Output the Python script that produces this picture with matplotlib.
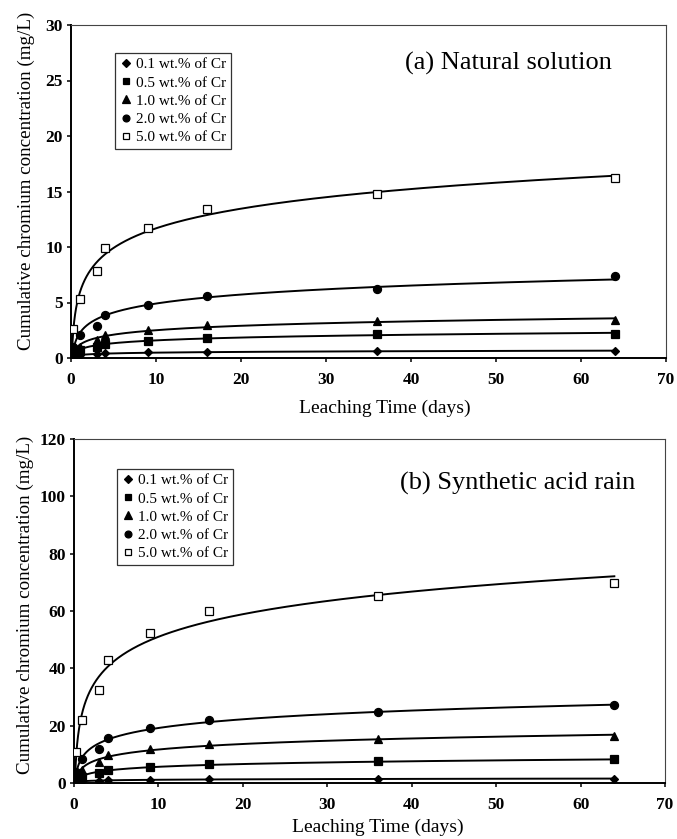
import numpy as np
import matplotlib
matplotlib.use("Agg")
import matplotlib.pyplot as plt

plt.rcParams['font.family'] = ['Liberation Serif', 'DejaVu Serif']

days = [0.25, 1, 3, 4, 9, 16, 36, 64]
labels = ["0.1 wt.% of Cr", "0.5 wt.% of Cr", "1.0 wt.% of Cr", "2.0 wt.% of Cr", "5.0 wt.% of Cr"]

nat_01 = [0.10, 0.25, 0.35, 0.45, 0.50, 0.57, 0.60, 0.60]
nat_05 = [0.30, 0.70, 1.00, 1.30, 1.56, 1.83, 2.13, 2.20]
nat_10 = [0.50, 1.00, 1.60, 2.07, 2.50, 2.97, 3.33, 3.40]
nat_20 = [1.00, 2.07, 2.90, 3.87, 4.77, 5.60, 6.25, 7.40]
nat_50 = [2.60, 5.30, 7.80, 9.90, 11.70, 13.40, 14.80, 16.20]

acid_01 = [0.3, 0.6, 0.8, 1.0, 1.1, 1.3, 1.4, 1.5]
acid_05 = [1.0, 2.0, 3.5, 4.4, 5.6, 6.5, 7.6, 8.2]
acid_10 = [2.0, 4.5, 7.3, 9.9, 11.7, 13.5, 15.3, 16.5]
acid_20 = [4.0, 8.2, 12.0, 15.8, 19.3, 22.1, 24.8, 27.1]
acid_50 = [10.8, 21.9, 32.6, 43.0, 52.5, 60.0, 65.2, 69.6]

markers = [dict(marker='D', ms=4.3, mfc='black'),
           dict(marker='s', ms=5.5, mfc='black'),
           dict(marker='^', ms=6.0, mfc='black'),
           dict(marker='o', ms=5.8, mfc='black'),
           dict(marker='s', ms=5.3, mfc='white')]

fig = plt.figure(figsize=(6.77, 8.39), dpi=100)
W, H = 677, 839

def make_ax(left, top, right, bottom):
    return fig.add_axes([left / W, 1 - bottom / H, (right - left) / W, (bottom - top) / H])

ax1 = make_ax(71, 25, 666, 358)
ax2 = make_ax(74, 439, 665, 783)

def draw(ax, series, ymax, ystep, title, title_pos, legend_anchor, xlab_pos, ylab_pos):
    t = np.array(days)
    handles = []
    for y, mk in zip(series, markers):
        y = np.array(y)
        b, a = np.polyfit(np.log(t), y, 1)
        tt = np.geomspace(0.13, 64, 400)
        yy = a + b * np.log(tt)
        m = yy >= 0
        ax.plot(tt[m], yy[m], color='black', lw=1.4, zorder=2)
        h, = ax.plot(t, y, linestyle='none', color='black', mec='black', mew=0.9, zorder=3, **mk)
        handles.append(h)
    ax.set_xlim(0, 70)
    ax.set_ylim(0, ymax)
    ax.set_xticks(np.arange(0, 71, 10))
    ax.set_yticks(np.arange(0, ymax + 0.1, ystep))
    ax.tick_params(direction='out', length=3, width=1.1, labelsize=12.5)
    ax.tick_params(axis='x', pad=7)
    ax.tick_params(axis='y', pad=3)
    for lab in ax.get_xticklabels() + ax.get_yticklabels():
        lab.set_fontweight('bold')
    for s in ['left', 'bottom']:
        ax.spines[s].set_linewidth(1.4)
    for s in ['top', 'right']:
        ax.spines[s].set_linewidth(0.8)
        ax.spines[s].set_color('#444444')
    ax.set_xlabel('Leaching Time (days)', fontsize=14)
    ax.xaxis.set_label_coords(*xlab_pos)
    ax.set_ylabel('Cumulative chromium concentration (mg/L)', fontsize=13.7)
    ax.yaxis.set_label_coords(*ylab_pos)
    ax.text(title_pos[0], title_pos[1], title, transform=ax.transAxes, fontsize=19,
            ha='right', va='center')
    leg = ax.legend(handles, labels, loc='upper left', bbox_to_anchor=legend_anchor,
                    fontsize=11, frameon=True, fancybox=False, edgecolor='black',
                    handlelength=0.8, handletextpad=0.3, borderpad=0.3, labelspacing=0.3,
                    markerscale=0.85, borderaxespad=0)
    leg.get_frame().set_linewidth(0.9)

draw(ax1, [nat_01, nat_05, nat_10, nat_20, nat_50], 30, 5, '(a) Natural solution',
     (0.909, 0.886), ((115 - 71) / 595, 1 - (53 - 25) / 333),
     ((385 - 71) / 595, (358 - 400) / 333), ((35 - 71) / 595, (358 - 181) / 333))
draw(ax2, [acid_01, acid_05, acid_10, acid_20, acid_50], 120, 20, '(b) Synthetic acid rain',
     (0.949, 0.872), ((117 - 74) / 591, 1 - (469 - 439) / 344),
     ((378 - 74) / 591, (783 - 819) / 344), ((34 - 74) / 591, (783 - 605) / 344))

fig.savefig('out.png', dpi=100)
